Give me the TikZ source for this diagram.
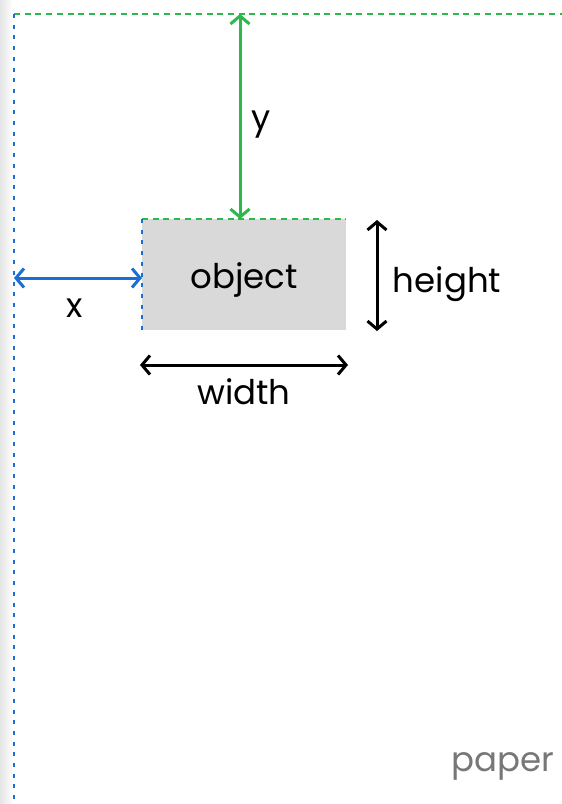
\documentclass[tikz,border=0pt]{standalone}
\usepackage{fontspec}
\setmainfont{Poppins}
\usetikzlibrary{arrows.meta}
\definecolor{pgreen}{HTML}{2DB84D}
\definecolor{pblue}{HTML}{1A6FD6}
\definecolor{pgray}{HTML}{D9D9D9}
\definecolor{ptext}{HTML}{777777}
\begin{document}
\begin{tikzpicture}[x=1pt,y=-1pt,
  dim/.style={line width=3pt,{Straight Barb[length=8pt,width=19pt,line width=3pt]}-{Straight Barb[length=8pt,width=19pt,line width=3pt]}},
  lbl/.style={font=\fontsize{34}{40}\selectfont,inner sep=0pt},
  gdash/.style={pgreen,line width=2.7pt,dash pattern=on 6pt off 4.7pt},
  bdash/.style={pblue,line width=2.7pt,dash pattern=on 4pt off 6.7pt}]
\useasboundingbox (0,0) rectangle (562,804);
\shade[left color=black!10,right color=white] (0,0) rectangle (13,804);
\fill[white] (13,0) rectangle (562,804);
% paper edges
\coordinate (tl) at (14,14);
\coordinate (tr) at (562,14);
\coordinate (bl) at (14,804);
\draw[gdash] (tl) -- (tr);
\draw[bdash] (tl) -- (bl);
% object
\node[fill=pgray,minimum width=204pt,minimum height=111pt,inner sep=0pt,anchor=north west] (obj) at (142,219) {};
\node[lbl] (objt) at (244,280) {object};
\draw[gdash] (obj.north west) -- (obj.north east);
\draw[bdash] (obj.north west) -- (obj.south west);
% y
\coordinate (ytop) at (240,14);
\coordinate (ybot) at (240,219);
\draw[dim,pgreen] (ytop) -- (ybot);
\node[lbl] (ylab) at (261,125) {y};
% x
\coordinate (xl) at (14,278);
\coordinate (xr) at (142,278);
\draw[dim,pblue] (xl) -- (xr);
\node[lbl] (xlab) at (75,308) {x};
% width
\coordinate (wl) at (140,365);
\coordinate (wr) at (348,365);
\draw[dim] (wl) -- (wr);
\node[lbl] (wlab) at (244,392) {width};
% height
\coordinate (ht) at (377,220);
\coordinate (hb) at (377,331);
\draw[dim] (ht) -- (hb);
\node[lbl] (hlab) at (447,284) {height};
% paper
\node[lbl,text=ptext] (paper) at (503,766) {paper};
\end{tikzpicture}
\end{document}
